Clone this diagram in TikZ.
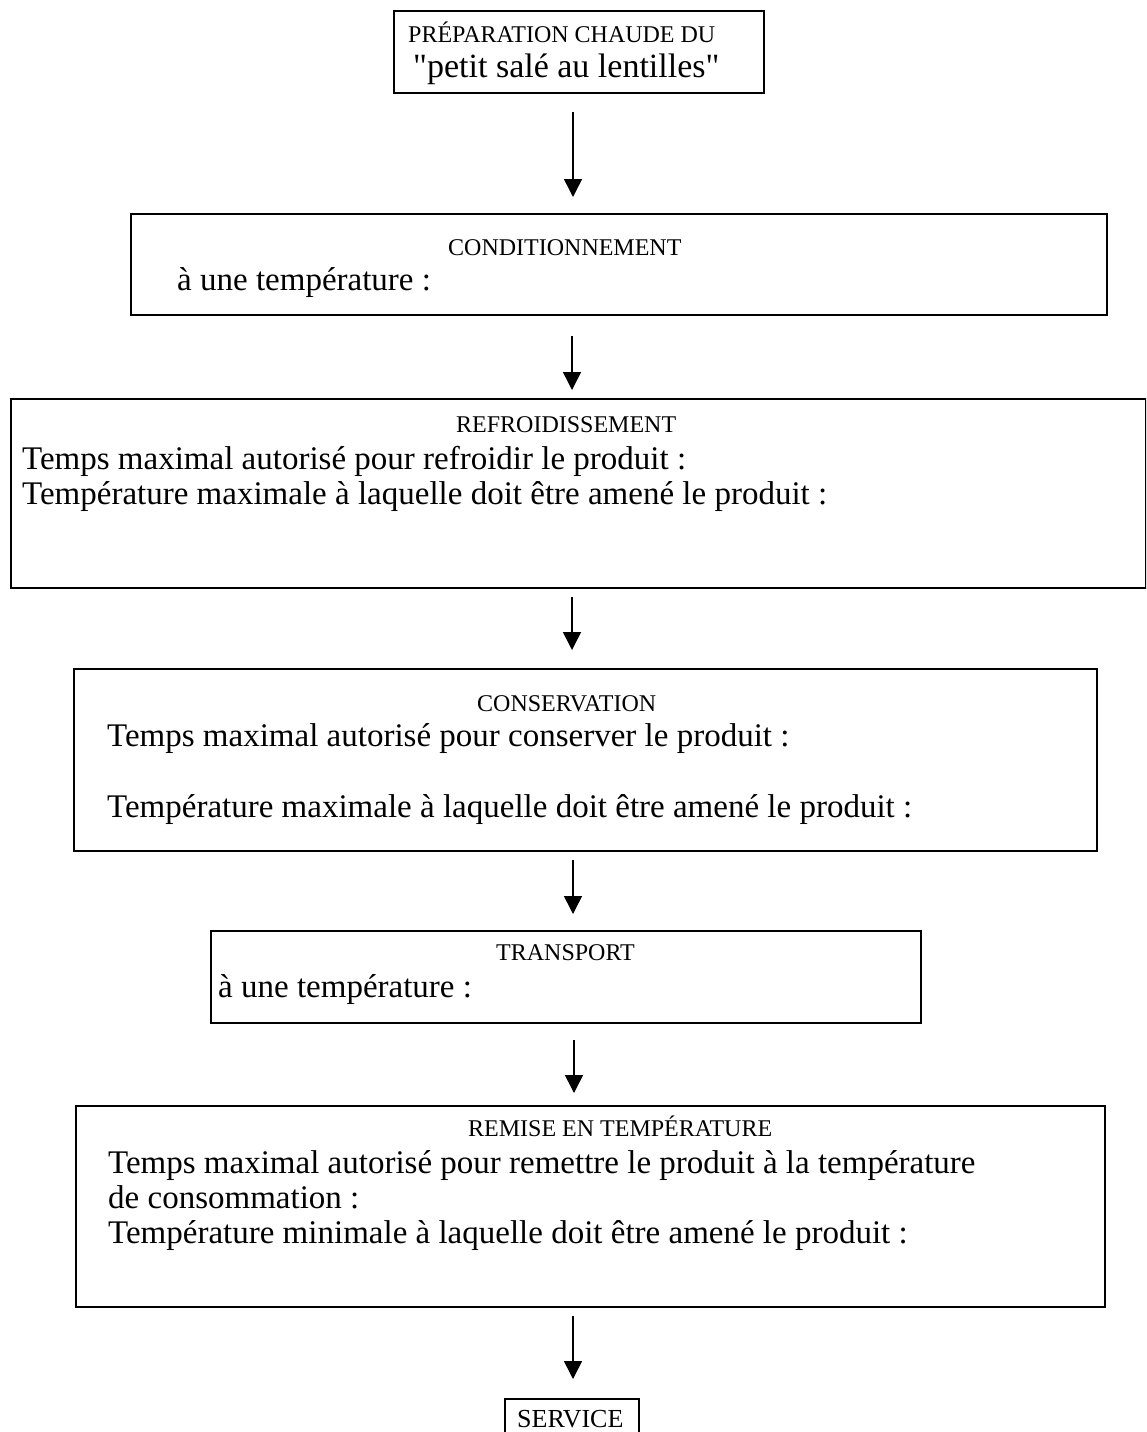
\documentclass[tikz,border=0pt]{standalone}
\usepackage{fontspec}
\setmainfont{Liberation Serif}[Ligatures=TeXOff]
\usetikzlibrary{arrows.meta}
\tikzset{
  box/.style={draw=black, line width=1.8pt, rectangle, inner sep=0pt, anchor=north west},
  arr/.style={line width=1.5pt, -{Triangle[length=18pt,width=18pt]}},
  hd/.style={anchor=base west, inner sep=0pt, font=\fontsize{24}{28}\selectfont},
  bd/.style={anchor=base west, inner sep=0pt, font=\fontsize{33}{36}\selectfont},
}
\begin{document}
\begin{tikzpicture}[x=1pt,y=-1pt]
\useasboundingbox (0,0) rectangle (1146,1432);
\clip (0,0) rectangle (1146,1432);
\fill[white] (0,0) rectangle (1146,1432);
% boxes
\node[box, minimum width=370pt, minimum height=82pt] (b1) at (393,10) {};
\node[box, minimum width=976pt, minimum height=101pt] (b2) at (130,213) {};
\node[box, minimum width=1135pt, minimum height=189pt] (b3) at (10,398) {};
\node[box, minimum width=1023pt, minimum height=182pt] (b4) at (73,668) {};
\node[box, minimum width=710pt, minimum height=92pt] (b5) at (210,930) {};
\node[box, minimum width=1029pt, minimum height=201pt] (b6) at (75,1105) {};
\node[box, minimum width=134pt, minimum height=80pt] (b7) at (504,1398) {};
% texts
\node[hd] (t1a) at (408,42) {PRÉPARATION CHAUDE DU};
\node[bd, font=\fontsize{34}{38}\selectfont] (t1b) at (413,77) {"petit salé au lentilles"};
\node[hd] (t2a) at (448,255) {CONDITIONNEMENT};
\node[bd] (t2b) at (177,290) {à une température :};
\node[hd] (t3a) at (456,432) {REFROIDISSEMENT};
\node[bd] (t3b) at (22,469) {Temps maximal autorisé pour refroidir le produit :};
\node[bd] (t3c) at (22,504) {Température maximale à laquelle doit être amené le produit :};
\node[hd] (t4a) at (477,711) {CONSERVATION};
\node[bd] (t4b) at (107,746) {Temps maximal autorisé pour conserver le produit :};
\node[bd] (t4c) at (107,817) {Température maximale à laquelle doit être amené le produit :};
\node[hd] (t5a) at (496,960) {TRANSPORT};
\node[bd] (t5b) at (218,997) {à une température :};
\node[hd] (t6a) at (468,1136) {REMISE EN TEMPÉRATURE};
\node[bd] (t6b) at (108,1173) {Temps maximal autorisé pour remettre le produit à la température};
\node[bd] (t6c) at (108,1208) {de consommation :};
\node[bd] (t6d) at (108,1243) {Température minimale à laquelle doit être amené le produit :};
\node[hd, font=\fontsize{26}{30}\selectfont] (t7) at (517,1427) {SERVICE};
% arrows
\coordinate (a1s) at (573,112); \coordinate (a1e) at (573,197);
\coordinate (a2s) at (572,336); \coordinate (a2e) at (572,390);
\coordinate (a3s) at (572,597); \coordinate (a3e) at (572,650);
\coordinate (a4s) at (573,860); \coordinate (a4e) at (573,914);
\coordinate (a5s) at (574,1040); \coordinate (a5e) at (574,1093);
\coordinate (a6s) at (573,1316); \coordinate (a6e) at (573,1379);
\draw[arr] (a1s) -- (a1e);
\draw[arr] (a2s) -- (a2e);
\draw[arr] (a3s) -- (a3e);
\draw[arr] (a4s) -- (a4e);
\draw[arr] (a5s) -- (a5e);
\draw[arr] (a6s) -- (a6e);
\end{tikzpicture}
\end{document}
